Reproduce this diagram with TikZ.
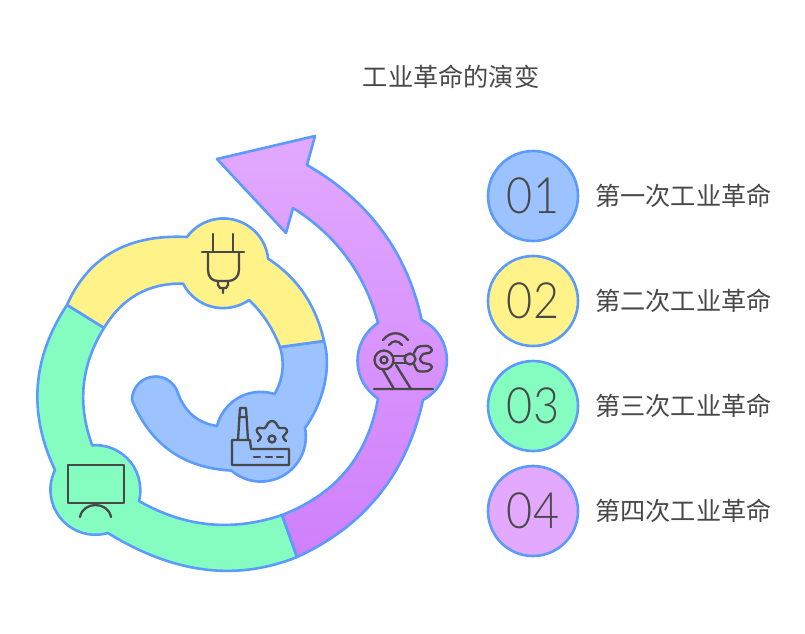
\documentclass[tikz,border=0pt]{standalone}
\usepackage{fontspec}
\setmainfont{Noto Sans CJK SC}
\newfontfamily\numfont[UprightFont={* Light},FakeStretch=0.9]{Lato}
\usetikzlibrary{positioning}
\definecolor{edgeblue}{HTML}{5B9BFF}
\definecolor{inkgray}{HTML}{484848}
\definecolor{fillblue}{HTML}{9CC2FF}
\definecolor{fillyellow}{HTML}{FFF288}
\definecolor{fillgreen}{HTML}{85FDC1}
\definecolor{fillplum}{HTML}{E2A9FF}
\definecolor{fillplumdark}{HTML}{CF7FFB}
\tikzset{
  spiralseg/.style={draw=edgeblue, line width=2.6pt, line join=round},
  iconline/.style={draw=inkgray, line width=2.3pt, line join=round, line cap=round},
  numdisc/.style={circle, draw=edgeblue, line width=2.6pt, minimum size=90pt, inner sep=0pt, text=inkgray, font=\numfont\fontsize{50}{50}\selectfont},
  steplabel/.style={inner sep=0pt, text=inkgray, font=\fontsize{25.2}{25.2}\selectfont}
}
\begin{document}
\begin{tikzpicture}[x=1pt, y=-1pt]
  \useasboundingbox (0,0) rectangle (805,633);
  \path[spiralseg, fill=fillblue] (324,341) .. controls (332,368) and (323,403) .. (305,428)
    arc[start angle=-11, end angle=131, radius=45]
    .. controls (183,468) and (150,444) .. (132,400)
    arc[start angle=180, end angle=340, radius=23.5]
    .. controls (184,411) and (197,423) .. (217,426)
    arc[start angle=194, end angle=288, radius=45]
    .. controls (283,379) and (285,364) .. (280,347) -- cycle;
  \path[spiralseg, fill=fillyellow] (67,305) .. controls (88,257) and (128,234) .. (187,237)
    arc[start angle=216, end angle=354, radius=45]
    .. controls (298,278) and (316,306) .. (324,341) -- (280,347)
    .. controls (273,329) and (263,313) .. (249,300)
    arc[start angle=55, end angle=153, radius=45]
    .. controls (148,283) and (122,298) .. (104,328) -- cycle;
  \path[spiralseg, fill=fillgreen] (67,305) .. controls (32,358) and (28,413) .. (55,470)
    arc[start angle=206, end angle=74, radius=45]
    .. controls (170,571) and (232,583) .. (297,557) -- (282,515)
    .. controls (232,532) and (184,527) .. (139,501)
    arc[start angle=14, end angle=-94, radius=45]
    .. controls (77,404) and (81,365) .. (104,328) -- cycle;
  \path[spiralseg, top color=fillplum, middle color=fillplum!85!fillplumdark, bottom color=fillplumdark] (297,557) .. controls (365,526) and (407,473) .. (423,400)
    arc[start angle=62, end angle=-64, radius=45]
    .. controls (407,252) and (368,200) .. (307,165)
    -- (315,136) -- (217,159) -- (286,233) -- (293,208)
    .. controls (336,235) and (365,274) .. (378,323)
    arc[start angle=237, end angle=123, radius=45]
    .. controls (368,456) and (336,494) .. (282,515) -- cycle;
  \draw[iconline] (213,234) -- (213,252) (233,234) -- (233,252) (202,252) -- (244,252);
  \draw[iconline] (208,252) -- (208,270) .. controls (208,277) and (212,281) .. (218,281) -- (228,281) .. controls (234,281) and (239,277) .. (239,270) -- (239,252);
  \draw[iconline] (218,281) -- (218,285) -- (220,288) -- (226,288) -- (228,285) -- (228,281) (223,288) -- (223,293);
  \draw[iconline] (383,340) .. controls (390,331) and (401,331) .. (408,340);
  \draw[iconline] (389,345) .. controls (393,340) and (398,340) .. (402,345);
  \draw[iconline] (384,360) circle[radius=9.5] (384,360) circle[radius=3.5] (410,359) circle[radius=5.5];
  \draw[iconline] (393,356) -- (405,356) (393,363) -- (405,363);
  \draw[iconline] plot[smooth, tension=0.5] coordinates {(414,353) (418,347) (428,346) (432,350) (429,353) (423,354) (420,359) (423,363) (429,364) (432,367) (428,371) (418,371) (414,364)};
  \draw[iconline] (383,370) -- (394,389) (396,365) -- (411,389) (374,389) -- (433,389);
  \draw[iconline] (238,440) -- (240,408) -- (246,408) -- (248,440) (239,417) -- (247,417);
  \draw[iconline] (232,465) -- (232,440) -- (250,440) -- (251,449) -- (289,449) -- (289,465) -- cycle;
  \draw[iconline] (254,457) -- (260,457) (266,457) -- (272,457) (277,457) -- (283,457);
  \draw[iconline] (272,439) circle[radius=3.5];
  \draw[iconline] plot[smooth, tension=0.6] coordinates {(258,441) (261,437) (257,432) (258,428) (265,428) (268,423) (272,421) (276,423) (279,428) (285,428) (287,432) (283,437) (286,441)};
  \draw[iconline] (68,465) rectangle (124,503);
  \draw[iconline] (80,517) .. controls (83,501) and (108,501) .. (111,517);
  \node (title) [steplabel] at (451,77) {工业革命的演变};
  \node (disc1) [numdisc, fill=fillblue] at (533,196) {01};
  \node (disc2) [numdisc, fill=fillyellow, below=12.4pt of disc1] {02};
  \node (disc3) [numdisc, fill=fillgreen, below=12.4pt of disc2] {03};
  \node (disc4) [numdisc, fill=fillplum, below=12.4pt of disc3] {04};
  \node (label1) [steplabel, right=15.7pt of disc1] {第一次工业革命};
  \node (label2) [steplabel, right=15.7pt of disc2] {第二次工业革命};
  \node (label3) [steplabel, right=15.7pt of disc3] {第三次工业革命};
  \node (label4) [steplabel, right=15.7pt of disc4] {第四次工业革命};
\end{tikzpicture}
\end{document}
